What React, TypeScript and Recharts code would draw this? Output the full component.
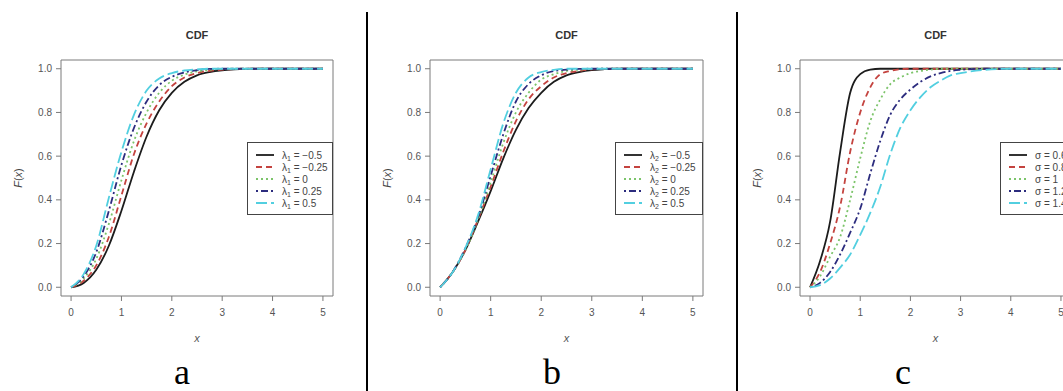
import { LineChart, Line, XAxis, YAxis, ReferenceArea } from "recharts";

// x grids
const abX = [0, 0.25, 0.5, 0.75, 1, 1.25, 1.5, 1.75, 2, 2.25, 2.5, 2.75, 3, 3.25, 3.5, 3.75, 4, 4.25, 4.5, 4.75, 5];
const cX = [0, 0.2, 0.4, 0.6, 0.8, 1, 1.2, 1.4, 1.6, 1.8, 2, 2.2, 2.4, 2.6, 2.8, 3, 3.5, 4, 4.5, 5];

// panel a: lambda1
const aLabels = ["−0.5", "−0.25", "0", "0.25", "0.5"];
const a1 = [0, 0.02, 0.08, 0.19, 0.35, 0.53, 0.69, 0.81, 0.89, 0.94, 0.97, 0.985, 0.993, 0.997, 0.999, 1, 1, 1, 1, 1, 1];
const a2 = [0, 0.03, 0.1, 0.23, 0.42, 0.61, 0.75, 0.85, 0.92, 0.96, 0.98, 0.99, 0.996, 0.999, 1, 1, 1, 1, 1, 1, 1];
const a3 = [0, 0.04, 0.13, 0.29, 0.49, 0.67, 0.8, 0.89, 0.945, 0.973, 0.988, 0.995, 0.999, 1, 1, 1, 1, 1, 1, 1, 1];
const a4 = [0, 0.05, 0.16, 0.35, 0.56, 0.73, 0.85, 0.925, 0.963, 0.983, 0.994, 0.999, 1, 1, 1, 1, 1, 1, 1, 1, 1];
const a5 = [0, 0.06, 0.19, 0.41, 0.62, 0.79, 0.9, 0.955, 0.98, 0.992, 0.997, 1, 1, 1, 1, 1, 1, 1, 1, 1, 1];

// panel b: lambda2
const bLabels = ["−0.5", "−0.25", "0", "0.25", "0.5"];
const b1 = [0, 0.07, 0.17, 0.3, 0.44, 0.59, 0.72, 0.82, 0.89, 0.94, 0.97, 0.985, 0.994, 0.998, 1, 1, 1, 1, 1, 1, 1];
const b2 = [0, 0.07, 0.17, 0.31, 0.46, 0.62, 0.76, 0.86, 0.92, 0.96, 0.98, 0.99, 0.997, 0.999, 1, 1, 1, 1, 1, 1, 1];
const b3 = [0, 0.07, 0.17, 0.31, 0.48, 0.66, 0.8, 0.89, 0.95, 0.975, 0.99, 0.996, 0.999, 1, 1, 1, 1, 1, 1, 1, 1];
const b4 = [0, 0.07, 0.18, 0.32, 0.51, 0.7, 0.85, 0.93, 0.97, 0.99, 0.996, 0.999, 1, 1, 1, 1, 1, 1, 1, 1, 1];
const b5 = [0, 0.07, 0.18, 0.33, 0.54, 0.75, 0.89, 0.96, 0.985, 0.995, 1, 1, 1, 1, 1, 1, 1, 1, 1, 1, 1];

// panel c: sigma
const cLabels = ["0.6", "0.8", "1", "1.2", "1.4"];
const c1 = [0, 0.12, 0.3, 0.62, 0.89, 0.975, 0.996, 1, 1, 1, 1, 1, 1, 1, 1, 1, 1, 1, 1, 1];
const c2 = [0, 0.07, 0.2, 0.37, 0.62, 0.8, 0.915, 0.975, 0.99, 0.998, 1, 1, 1, 1, 1, 1, 1, 1, 1, 1];
const c3 = [0, 0.05, 0.14, 0.23, 0.4, 0.59, 0.76, 0.86, 0.93, 0.96, 0.98, 0.99, 0.996, 1, 1, 1, 1, 1, 1, 1];
const c4 = [0, 0.02, 0.07, 0.15, 0.25, 0.36, 0.52, 0.67, 0.79, 0.86, 0.905, 0.94, 0.965, 0.98, 0.99, 0.995, 1, 1, 1, 1];
const c5 = [0, 0.01, 0.04, 0.09, 0.15, 0.24, 0.34, 0.46, 0.61, 0.73, 0.81, 0.87, 0.915, 0.945, 0.97, 0.98, 0.995, 1, 1, 1];

const xTicks = [0, 1, 2, 3, 4, 5];
const yTicks = [0, 0.2, 0.4, 0.6, 0.8, 1];

const styles = [
  { color: "#1c1c1c", dash: undefined },
  { color: "#c4433f", dash: "6 4" },
  { color: "#7cc46a", dash: "2 3" },
  { color: "#2c2c7e", dash: "2 3 7 3" },
  { color: "#52cfe0", dash: "11 4" },
];

const FONT = '"Liberation Sans", Arial, sans-serif';
const AXIS = "#7a7a7a";
const TEXT = "#555";

const makeRows = (xs: number[], series: number[][]) =>
  xs.map((x, i) => {
    const row: Record<string, number> = { x };
    series.forEach((s, k) => (row["s" + k] = s[i]));
    return row;
  });

type PanelProps = {
  left: number;
  width: number;
  rows: Record<string, number>[];
  legendLeft: number;
  legendWidth: number;
  symbol: string;
  sub?: string;
  labels: string[];
};

const Panel = ({ left, width, rows, legendLeft, legendWidth, symbol, sub, labels }: PanelProps) => {
  const boxLeft = left + 61;
  const boxRight = left + width - 12;
  const mid = (boxLeft + boxRight) / 2;
  return (
    <>
      <div style={{ position: "absolute", left, top: 0 }}>
        <LineChart width={width} height={391} data={rows} margin={{ top: 60, right: 12, bottom: 65, left: 0 }}>
          <XAxis
            dataKey="x"
            type="number"
            domain={[-0.2, 5.2]}
            ticks={xTicks}
            axisLine={false}
            tickLine={{ stroke: AXIS }}
            tickSize={5}
            tickMargin={8}
            height={30}
            tick={{ fill: TEXT, fontSize: 10, fontFamily: FONT }}
            allowDataOverflow
          />
          <YAxis
            type="number"
            domain={[-0.04, 1.04]}
            ticks={yTicks}
            tickFormatter={(v: number) => v.toFixed(1)}
            axisLine={false}
            tickLine={{ stroke: AXIS }}
            tickSize={5}
            tickMargin={4}
            width={61}
            tick={{ fill: TEXT, fontSize: 10, fontFamily: FONT }}
            allowDataOverflow
          />
          <ReferenceArea x1={-0.2} x2={5.2} y1={-0.04} y2={1.04} fill="none" fillOpacity={0} stroke={AXIS} strokeWidth={1} ifOverflow="visible" />
          {styles.map((st, k) => (
            <Line
              key={k}
              dataKey={"s" + k}
              type="monotone"
              stroke={st.color}
              strokeWidth={1.8}
              strokeDasharray={st.dash}
              dot={false}
              isAnimationActive={false}
            />
          ))}
        </LineChart>
      </div>
      <div style={{ position: "absolute", left: mid, top: 29, transform: "translateX(-50%)", font: `bold 11px ${FONT}`, lineHeight: "13px", color: "#333" }}>CDF</div>
      <div style={{ position: "absolute", left: mid, top: 332, transform: "translateX(-50%)", font: `italic 11px ${FONT}`, lineHeight: "13px", color: TEXT }}>x</div>
      <div
        style={{
          position: "absolute",
          left: left + 18,
          top: 178,
          transform: "translate(-50%, -50%) rotate(-90deg)",
          font: `11px ${FONT}`,
          lineHeight: "13px",
          color: "#444",
          whiteSpace: "nowrap",
        }}
      >
        <i>F</i>(<i>x</i>)
      </div>
      <div
        style={{
          position: "absolute",
          left: legendLeft,
          top: 142,
          width: legendWidth,
          height: 73,
          boxSizing: "border-box",
          border: "1px solid #444",
          background: "#fff",
          paddingTop: 6,
          font: `10px ${FONT}`,
          color: "#444",
        }}
      >
        {styles.map((st, k) => (
          <div key={k} style={{ display: "flex", alignItems: "center", height: 12, paddingLeft: 8, whiteSpace: "nowrap" }}>
            <svg width={18} height={12} style={{ flex: "none" }}>
              <line x1={0} y1={6} x2={18} y2={6} stroke={st.color} strokeWidth={1.8} strokeDasharray={st.dash} />
            </svg>
            <span style={{ marginLeft: 8 }}>
              {symbol}
              {sub && <span style={{ fontSize: 7, position: "relative", top: 2 }}>{sub}</span>}
              {" = " + labels[k]}
            </span>
          </div>
        ))}
      </div>
    </>
  );
};

const letter = (ch: string, x: number) => (
  <div style={{ position: "absolute", left: x, top: 354, transform: "translateX(-50%)", font: '36px "Liberation Serif", serif', lineHeight: "36px", color: "#000" }}>
    {ch}
  </div>
);

export default function App() {
  return (
    <div style={{ position: "absolute", left: 0, top: 0, width: 1063, height: 391, overflow: "hidden", background: "#fff" }}>
      <Panel left={0} width={345} rows={makeRows(abX, [a1, a2, a3, a4, a5])} legendLeft={247} legendWidth={86} symbol="λ" sub="1" labels={aLabels} />
      <Panel left={369} width={346} rows={makeRows(abX, [b1, b2, b3, b4, b5])} legendLeft={615} legendWidth={88} symbol="λ" sub="2" labels={bLabels} />
      <Panel left={739} width={344} rows={makeRows(cX, [c1, c2, c3, c4, c5])} legendLeft={1000} legendWidth={80} symbol="σ" labels={cLabels} />
      <div style={{ position: "absolute", left: 366, top: 12, width: 2, height: 379, background: "#000" }} />
      <div style={{ position: "absolute", left: 736, top: 12, width: 2, height: 379, background: "#000" }} />
      {letter("a", 182)}
      {letter("b", 552)}
      {letter("c", 903)}
    </div>
  );
}
